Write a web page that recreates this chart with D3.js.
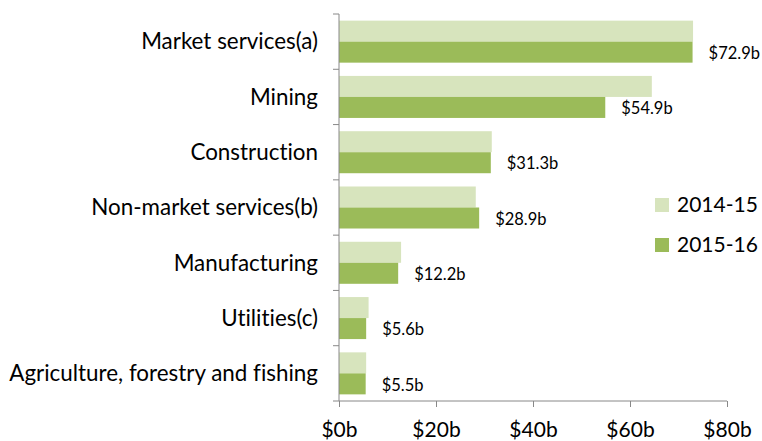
<!DOCTYPE html>
<html>
<head>
<meta charset="utf-8">
<script src="https://cdn.jsdelivr.net/npm/d3@7"></script>
<style>
  body { margin: 0; background: #fff; }
  text { font-family: Lato, "Open Sans", sans-serif; fill: #000; font-variant-ligatures: none; }
</style>
</head>
<body>
<div id="chart"></div>
<script>
// data
var categories = ["Market services(a)", "Mining", "Construction", "Non-market services(b)",
                  "Manufacturing", "Utilities(c)", "Agriculture, forestry and fishing"];
var series = ["2014-15", "2015-16"];
var values2014 = [73.0, 64.5, 31.5, 28.2, 12.8, 6.1, 5.6];
var values2015 = [72.9, 54.9, 31.3, 28.9, 12.2, 5.6, 5.5];
var xTicks = [0, 20, 40, 60, 80];

var colors = ["#d7e4bd", "#9bbb59"];

var width = 762, height = 441;
var margin = {top: 14, right: 35, bottom: 40, left: 339};
var innerW = width - margin.left - margin.right,
    innerH = height - margin.top - margin.bottom;

var svg = d3.select("#chart")
  .append("svg")
    .attr("width", width)
    .attr("height", height);

var g = svg.append("g")
    .attr("transform", "translate(" + margin.left + "," + margin.top + ")");

var x = d3.scaleLinear().domain([0, 80]).range([0, innerW]);
var y = d3.scaleBand().domain(categories).range([0, innerH]).paddingInner(0.24).paddingOuter(0.12);
var ySub = d3.scaleBand().domain(series).range([0, y.bandwidth()]);

var rows = categories.map(function(c, i) {
  return {cat: c, vals: [values2014[i], values2015[i]]};
});

// bars
var grp = g.selectAll(".grp")
  .data(rows)
  .enter().append("g")
    .attr("transform", function(d) { return "translate(0," + y(d.cat) + ")"; });

grp.selectAll("rect")
  .data(function(d) { return d.vals.map(function(v, j) { return {s: series[j], v: v, j: j}; }); })
  .enter().append("rect")
    .attr("x", 0)
    .attr("y", function(d) { return ySub(d.s); })
    .attr("width", function(d) { return x(d.v); })
    .attr("height", ySub.bandwidth())
    .attr("fill", function(d) { return colors[d.j]; });

// value labels for 2015-16
grp.append("text")
    .attr("x", function(d) { return x(d.vals[1]) + 16; })
    .attr("y", ySub("2015-16") + ySub.bandwidth() / 2 + 1)
    .attr("dy", "0.35em")
    .style("font-size", "16.5px")
    .text(function(d) { return "$" + d3.format(".1f")(d.vals[1]) + "b"; });

// x axis
var xAxis = g.append("g")
    .attr("transform", "translate(0," + innerH + ")")
    .call(d3.axisBottom(x).tickValues(xTicks).tickSize(6).tickSizeOuter(0)
      .tickFormat(function(d) { return "$" + d + "b"; }));
xAxis.select(".domain").remove();
xAxis.append("line").attr("x1", 0).attr("x2", innerW).attr("stroke", "#888");
xAxis.selectAll("line").attr("stroke", "#888");
xAxis.selectAll("text").style("font-size", "21px").attr("y", 21).attr("dy", "0.72em");

// y axis: ticks on band boundaries
var yAxis = g.append("g");
yAxis.append("line")
    .attr("x1", 0).attr("x2", 0).attr("y1", 0).attr("y2", innerH)
    .attr("stroke", "#888");
var step = y.step();
var bounds = d3.range(categories.length + 1).map(function(i) { return y(categories[0]) - step * y.paddingOuter() + i * step; });
yAxis.selectAll(".tk")
  .data(bounds)
  .enter().append("line")
    .attr("x1", -6).attr("x2", 0)
    .attr("y1", function(d) { return d; }).attr("y2", function(d) { return d; })
    .attr("stroke", "#888");

g.selectAll(".catlabel")
  .data(categories)
  .enter().append("text")
    .attr("x", -21)
    .attr("y", function(d) { return y(d) + y.bandwidth() / 2; })
    .attr("dy", "0.35em")
    .attr("text-anchor", "end")
    .style("font-size", "22.4px")
    .text(function(d) { return d; });

// legend
var legend = svg.append("g").attr("transform", "translate(655,198)");
series.forEach(function(s, i) {
  var row = legend.append("g").attr("transform", "translate(0," + (i * 40) + ")");
  row.append("rect").attr("width", 14).attr("height", 14).attr("fill", colors[i]);
  row.append("text").attr("x", 22).attr("y", 7).attr("dy", "0.35em")
    .style("font-size", "21px").text(s);
});
</script>
</body>
</html>
